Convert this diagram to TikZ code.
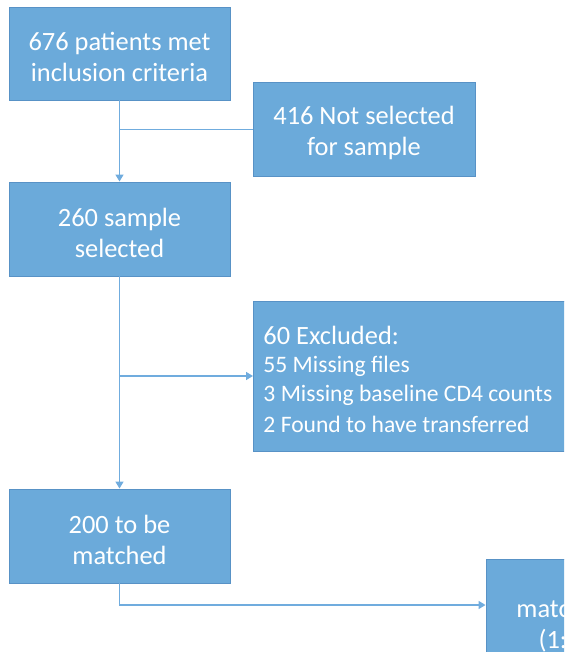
\documentclass[tikz,border=0pt]{standalone}
\usepackage{fontspec}
\setmainfont{Carlito}
\usetikzlibrary{arrows.meta}
\definecolor{boxfill}{RGB}{107,170,218}
\definecolor{boxdraw}{RGB}{88,146,198}
\definecolor{linecol}{RGB}{112,172,222}
\newcommand\tgap{\rule{0pt}{26pt}}
\tikzset{
  flowbox/.style={draw=boxdraw, line width=0.9pt, fill=boxfill, text=white,
    font=\fontsize{26.4}{31}\selectfont, align=center, inner sep=0pt},
  conn/.style={draw=linecol, line width=1.5pt},
  arr/.style={conn, -{Triangle[length=7pt,width=8pt]}},
}
\begin{document}
\begin{tikzpicture}[x=1pt,y=-1pt]
\useasboundingbox (0,0) rectangle (564,652);
\clip (0,0) rectangle (564,652);
\node[flowbox, minimum width=221pt, minimum height=93pt] (b1) at (119.5,53.5) {\tgap676 patients met\\inclusion criteria};
\node[flowbox, minimum width=222pt, minimum height=94pt] (b2) at (364,129.5) {\tgap416 Not selected\\for sample};
\node[flowbox, minimum width=221pt, minimum height=94pt] (b3) at (119.5,229) {\tgap260 sample\\selected};
\node[flowbox, minimum width=360pt, minimum height=150pt, anchor=west, align=flush left, text width=340pt, inner xsep=10pt] (b4) at (253,376)
  {\tgap\fontsize{26.4}{29}\selectfont 60 Excluded:\\[-1pt]
   \fontsize{23.6}{29}\selectfont 55 Missing files\\
   \fontsize{23.6}{29}\selectfont 3 Missing baseline CD4 counts\\
   \fontsize{23.6}{29}\selectfont 2 Found to have transferred};
\node[flowbox, minimum width=221pt, minimum height=94pt] (b5) at (119.5,536) {\tgap200 to be\\matched};
\node[flowbox, minimum width=155pt, minimum height=126pt] (b6) at (563.5,622) {\tgap matched\\(1:1)};
\coordinate (j6) at (0,605);
\draw[arr] (b1.south) -- (b3.north);
\draw[conn] (b1.south |- b2.west) -- (b2.west);
\draw[arr] (b3.south) -- (b5.north);
\draw[arr] (b3.south |- b4.west) -- (b4.west);
\draw[arr] (b5.south) |- (b6.west |- j6);
\end{tikzpicture}
\end{document}
